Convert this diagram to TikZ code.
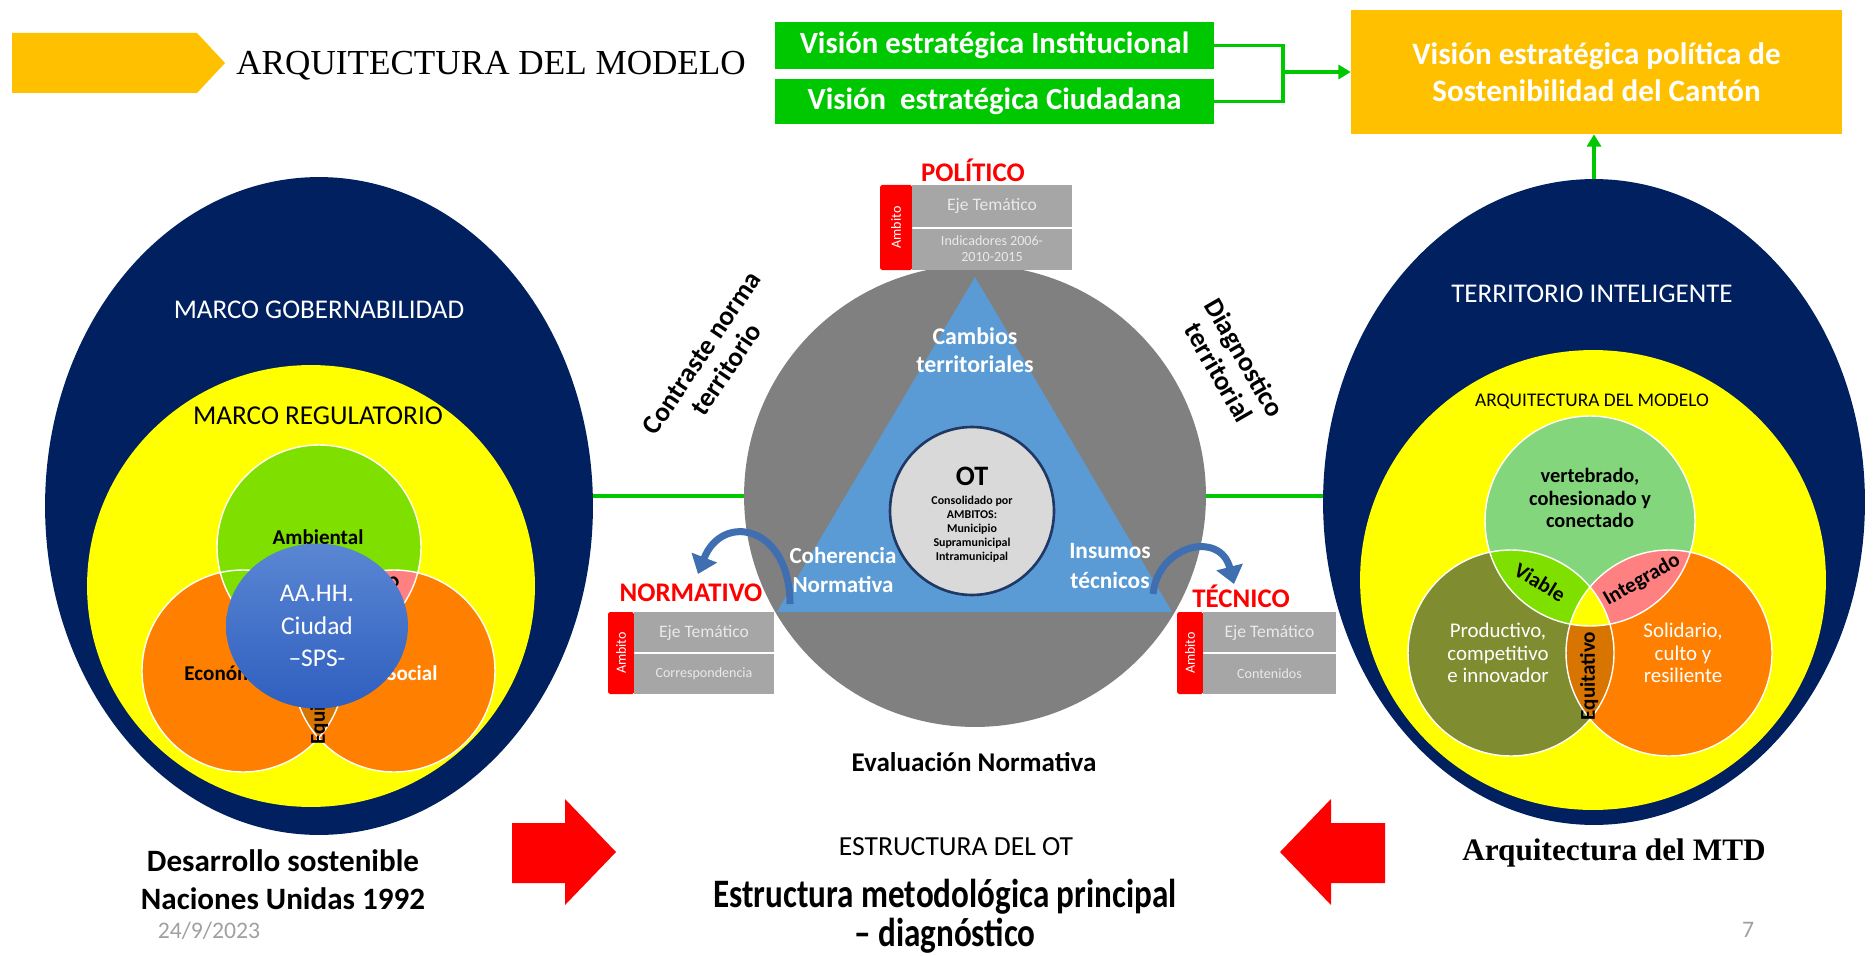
\documentclass[tikz,border=0pt]{standalone}
\usepackage{fontspec}
\setmainfont{Carlito}
\newfontfamily\tnr{Liberation Serif}
\usetikzlibrary{shapes.geometric,arrows.meta}
\definecolor{navy}{HTML}{002060}
\definecolor{yel}{HTML}{FFFF00}
\definecolor{vgreen}{HTML}{00C800}
\definecolor{gold}{HTML}{FFC000}
\definecolor{gcirc}{HTML}{808080}
\definecolor{triblue}{HTML}{5B9BD5}
\definecolor{otgray}{HTML}{D9D9D9}
\definecolor{otborder}{HTML}{1F3864}
\definecolor{pgray}{HTML}{A6A6A6}
\definecolor{ptext}{HTML}{E9E9E9}
\definecolor{brgreen}{HTML}{7FE000}
\definecolor{orng}{HTML}{FF8000}
\definecolor{pinkc}{HTML}{FF8080}
\definecolor{dorng}{HTML}{D87400}
\definecolor{lgreen}{HTML}{84D67C}
\definecolor{olive}{HTML}{7F8C30}
\definecolor{arrblue}{HTML}{3F6FB0}
\definecolor{datec}{HTML}{A0A0A0}
\definecolor{redc}{HTML}{FF0000}
\definecolor{bluetop}{HTML}{5A86D2}
\definecolor{bluebot}{HTML}{2F5FC0}
\newcommand\fsz[2]{\fontsize{#1}{#2}\selectfont}
\newcommand\ambpanel[7]{%
  \fill[redc, rounded corners=1pt] (#2,#3) rectangle ({#2+#6},#5);
  \fill[pgray] ({#2+#6},#3) rectangle (#4,{(#3+#5)/2-1});
  \fill[pgray] ({#2+#6},{(#3+#5)/2+1}) rectangle (#4,#5);
  \node[txt, rotate=90, text=white, font={\fsz{8pt}{9pt}}] (#1-amb) at ({#2+#6/2},{(#3+#5)/2}) {Ambito};
  \node[txt, text=ptext, font={\fsz{10pt}{11pt}}] (#1-eje) at ({(#2+#6+#4)/2},{(3*#3+#5)/4}) {Eje Temático};
  \node[txt, text=ptext, font={\fsz{8pt}{9pt}}] (#1-sub) at ({(#2+#6+#4)/2},{(#3+3*#5)/4}) {#7};
}
\begin{document}
\begin{tikzpicture}[x=0.02cm,y=-0.02cm,
  txt/.style={inner sep=0pt, align=center},
  gline/.style={draw=vgreen, line width=2pt},
  gbox/.style={fill=vgreen, text=white, font={\bfseries\fsz{17.5pt}{21pt}}, minimum width=8.78cm, inner sep=0pt},
  ell/.style={ellipse, inner sep=0pt},
  vennline/.style={draw=white, line width=0.8pt},
  bl/.style={txt, font={\bfseries\fsz{12pt}{12.5pt}}},
  barrow/.style={draw=arrblue, line width=4pt, -{Triangle[length=10pt,width=15pt]}},
  redlbl/.style={txt, text=redc, font={\bfseries\fsz{15.3pt}{16pt}}},
  ]
\useasboundingbox (0,0) rectangle (1875,956);

% ---------- title ----------
\fill[gold] (12,33) -- (197,33) -- (225,63) -- (197,93) -- (12,93) -- cycle;
\node[txt, anchor=west, font={\tnr\fsz{20pt}{24pt}}] (title) at (236,66) {ARQUITECTURA DEL MODELO};

% ---------- vision boxes ----------
\node[gbox, minimum height=0.94cm] (vi) at (994.5,45.5) {Visión estratégica Institucional};
\node[gbox, minimum height=0.9cm] (vc) at (994.5,101.5) {Visión\ \ estratégica Ciudadana};
\node[fill=gold, text=white, font={\bfseries\fsz{17.7pt}{21pt}}, align=center, minimum width=9.82cm, minimum height=2.48cm, inner sep=0pt] (vp) at (1596.5,72) {Visión estratégica política de\\Sostenibilidad del Cantón};
\coordinate (J) at (1283,72);
\draw[gline] (vi.east) -| (J);
\draw[gline] (vc.east) -| (J);
\draw[gline, -{Triangle[length=7pt,width=8pt]}] (J) -- (vp.west);

% ---------- left ellipse ----------
\node[ell, fill=navy, minimum width=10.96cm, minimum height=13.16cm] (LE) at (319,506) {};
\node[ell, fill=yel, minimum width=8.96cm, minimum height=8.84cm] (LY) at (311,586) {};
\node[txt, text=white, font={\fsz{15.4pt}{16pt}}] (lgob) at (319,310) {MARCO GOBERNABILIDAD};
\node[txt, font={\fsz{15.5pt}{16pt}}] (lreg) at (318,416) {MARCO REGULATORIO};

\coordinate (LG) at (319,547);
\coordinate (LO1) at (243,671);
\coordinate (LO2) at (394,671);
\fill[brgreen] (LG) circle (102);
\fill[orng] (LO1) circle (101);
\fill[orng] (LO2) circle (101);
\begin{scope}\clip (LG) circle (102); \fill[brgreen] (LO1) circle (101);\end{scope}
\begin{scope}\clip (LG) circle (102); \fill[pinkc] (LO2) circle (101);\end{scope}
\begin{scope}\clip (LO1) circle (101); \fill[dorng] (LO2) circle (101);\end{scope}
\draw[vennline] (LG) circle (102) (LO1) circle (101) (LO2) circle (101);
\node[bl] (lamb) at (318,537) {Ambiental};
\node[bl] (leco) at (232,673) {Económico};
\node[bl, text=white] (lsoc) at (412,673) {Social};
\node[bl, rotate=31] (lint) at (362,601) {Integrado};
\node[bl, rotate=90] (lequ) at (319,700) {Equitativo};
\node[ell, top color=bluetop, bottom color=bluebot, minimum width=3.64cm, minimum height=3.3cm, text=white, align=center, font={\fsz{14.5pt}{18.5pt}}] (BE) at (317,626) {AA.HH.\\Ciudad\\–SPS-};

% ---------- right ellipse ----------
\node[ell, fill=navy, minimum width=10.84cm, minimum height=12.92cm] (RE) at (1594,502) {};
\node[ell, fill=yel, minimum width=9.32cm, minimum height=9.2cm] (RY) at (1593,580) {};
\node[txt, text=white, font={\fsz{15.4pt}{16pt}}] (rter) at (1592,294) {TERRITORIO INTELIGENTE};
\node[txt, font={\fsz{11pt}{12pt}}] (rarq) at (1592,402) {ARQUITECTURA DEL MODELO};
\draw[gline, -{Triangle[length=7pt,width=8pt]}] (RE.north) -- (RE.north |- vp.south);

\coordinate (RG) at (1590,521);
\coordinate (RO1) at (1511,653);
\coordinate (RO2) at (1669,653);
\fill[lgreen] (RG) circle (105);
\fill[olive] (RO1) circle (103);
\fill[orng] (RO2) circle (103);
\begin{scope}\clip (RG) circle (105); \fill[brgreen] (RO1) circle (103);\end{scope}
\begin{scope}\clip (RG) circle (105); \fill[pinkc] (RO2) circle (103);\end{scope}
\begin{scope}\clip (RO1) circle (103); \fill[dorng] (RO2) circle (103);\end{scope}
\begin{scope}\clip (RG) circle (105); \clip (RO1) circle (103); \fill[yel] (RO2) circle (103);\end{scope}
\draw[vennline] (RG) circle (105) (RO1) circle (103) (RO2) circle (103);
\node[txt, font={\bfseries\fsz{11.6pt}{12.6pt}}] (rver) at (1590,498) {vertebrado,\\cohesionado y\\conectado};
\node[txt, text=white, font={\fsz{11.9pt}{12.8pt}}] (rpro) at (1498,653) {Productivo,\\competitivo\\e innovador};
\node[txt, text=white, font={\fsz{11.9pt}{12.8pt}}] (rsol) at (1683,653) {Solidario,\\culto y\\resiliente};
\node[bl, rotate=-31] (rvia) at (1540,582) {Viable};
\node[bl, rotate=30] (rint) at (1642,580) {Integrado};
\node[bl, rotate=90] (requ) at (1589,676) {Equitativo};

% ---------- central circle ----------
\node[circle, fill=gcirc, minimum size=9.24cm, inner sep=0pt] (GC) at (975,496) {};
\draw[gline] (LE.east |- GC.west) -- (GC.west);
\draw[gline] (GC.east) -- (GC.east -| RE.west);
\fill[triblue] (975,277) -- (1172,612) -- (777,612) -- cycle;
\node[ell, fill=otgray, draw=otborder, line width=1.5pt, minimum width=3.28cm, minimum height=3.36cm] (OT) at (972,511) {};
\node[txt, font={\bfseries\fsz{16pt}{17pt}}] (otl) at (972,476) {OT};
\node[txt, font={\bfseries\fsz{6.8pt}{8pt}}] (ots) at (972,529) {Consolidado por\\AMBITOS:\\Municipio\\Supramunicipal\\Intramunicipal};
\node[txt, text=white, font={\bfseries\fsz{13.6pt}{16pt}}] (camb) at (975,350) {Cambios\\territoriales};
\node[txt, text=white, font={\bfseries\fsz{13.1pt}{17pt}}] (cohe) at (843,570) {Coherencia\\Normativa};
\node[txt, text=white, font={\bfseries\fsz{13.3pt}{17pt}}] (insu) at (1110,566) {Insumos\\técnicos};
\node[txt, rotate=56, font={\bfseries\fsz{15.5pt}{17pt}}] (cont) at (714,361) {Contraste norma\\territorio};
\node[txt, rotate=-60, font={\bfseries\fsz{15.5pt}{17pt}}] (diag) at (1232,365) {Diagnostico\\territorial};

% ---------- panels ----------
\node[redlbl] (pol) at (973,170) {POLÍTICO};
\ambpanel{pp}{880}{185}{1072}{270}{32}{Indicadores 2006-\\2010-2015}
\node[redlbl] (nor) at (691,593) {NORMATIVO};
\ambpanel{np}{608}{612}{774}{694}{26}{Correspondencia}
\node[redlbl] (tec) at (1241,596) {TÉCNICO};
\ambpanel{tp}{1177}{612}{1336}{694}{26}{Contenidos}

\coordinate (la0) at (790,604);
\coordinate (la1) at (698,574);
\draw[barrow] (la0) .. controls (790,525) and (722,512) .. (la1);
\coordinate (ra0) at (1153,594);
\coordinate (ra1) at (1234,584);
\draw[barrow] (ra0) .. controls (1158,545) and (1220,530) .. (ra1);

\node[txt, font={\bfseries\fsz{15.4pt}{16pt}}] (eval) at (974,762) {Evaluación Normativa};

% ---------- bottom ----------
\node[txt, font={\bfseries\fsz{17.7pt}{21.5pt}}] (desa) at (283,880) {Desarrollo sostenible\\Naciones Unidas 1992};
\node[txt, text=datec, font={\fsz{13.5pt}{14pt}}] (date) at (209,931) {24/9/2023};
\node[txt, text=datec, font={\fsz{13.5pt}{14pt}}] (pnum) at (1748,930) {7};
\node[txt, font={\fsz{15.7pt}{16pt}}] (estr) at (956,847) {ESTRUCTURA DEL OT};
\node[txt, font={\bfseries\fsz{23pt}{22pt}}] (emet) at (945,916) {\scalebox{0.82}[1]{Estructura metodológica principal}\\\scalebox{0.82}[1]{– diagnóstico}};
\node[txt, font={\tnr\bfseries\fsz{17.8pt}{20pt}}] (amtd) at (1614,853) {Arquitectura del MTD};
\fill[redc] (512,823) -- (565,823) -- (565,799) -- (616,852) -- (565,905) -- (565,883) -- (512,883) -- cycle;
\fill[redc] (1385,823) -- (1331,823) -- (1331,799) -- (1280,852) -- (1331,905) -- (1331,883) -- (1385,883) -- cycle;
\end{tikzpicture}
\end{document}
